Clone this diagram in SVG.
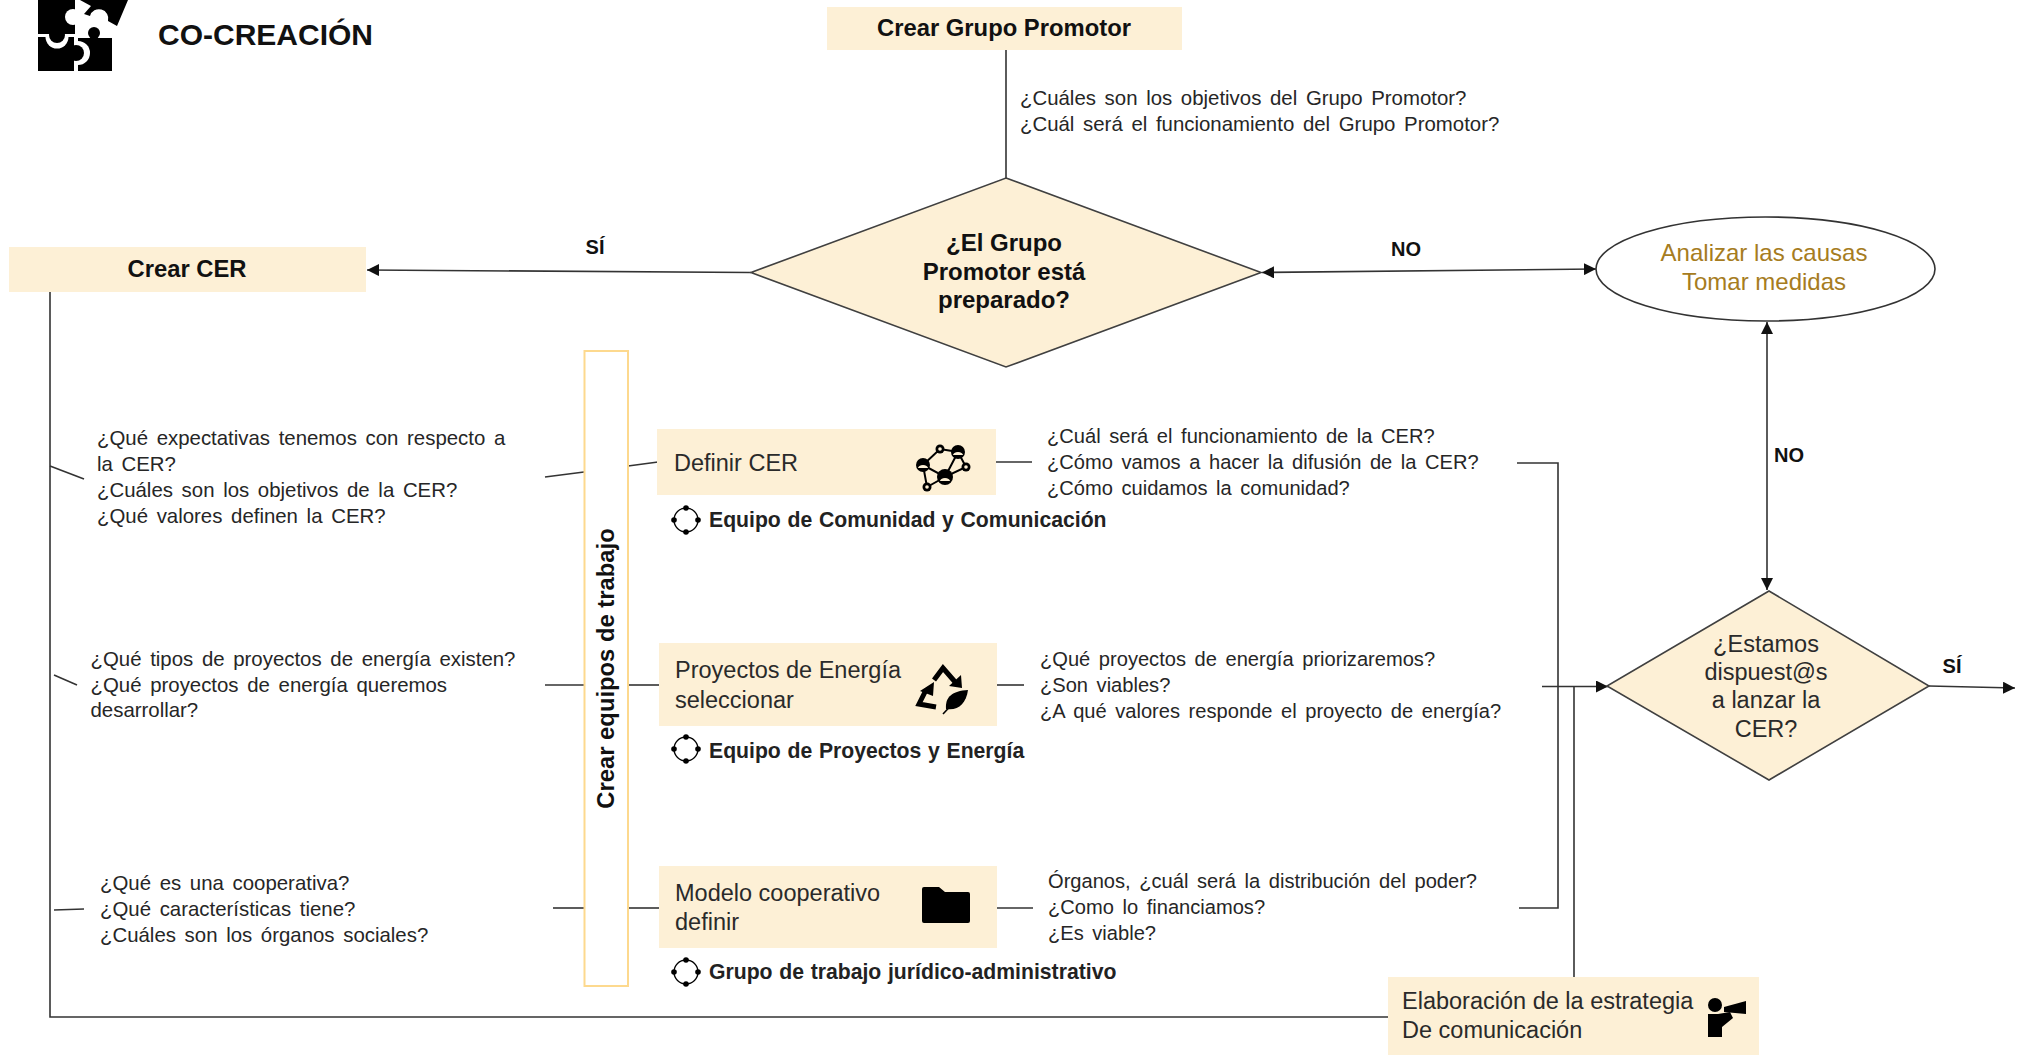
<svg xmlns="http://www.w3.org/2000/svg" width="2022" height="1055" viewBox="0 0 2022 1055">
<style>
text{font-family:"Liberation Sans",Arial,sans-serif;fill:#1c1c1c}
.q{font-size:20.4px;word-spacing:3px;fill:#262626}
.r{font-size:20.100px;word-spacing:3px;fill:#262626}
.b{font-weight:bold;fill:#111}
.h{font-size:23.800px;font-weight:bold;fill:#111}
.n{font-size:23.500px;fill:#2a2a2a}
.t{font-size:21.200px;font-weight:bold;word-spacing:.8px;fill:#222}
.l{font-size:20px;font-weight:bold;fill:#111}
.m{text-anchor:middle}
.box{fill:#fdf0d6}
.dia{fill:#fdf0d6;stroke:#404040;stroke-width:1.6}
.c{fill:none;stroke:#333;stroke-width:1.6}
.ic{fill:#000}
.w{fill:#fff}
.ring{fill:none;stroke:#000;stroke-width:1.300}
</style>
<defs>
<marker id="a" viewBox="0 0 12 12" refX="12" refY="6" markerWidth="12" markerHeight="12" markerUnits="userSpaceOnUse" orient="auto-start-reverse"><path d="M0 0L12 6L0 12Z" fill="#111"/></marker>
<g id="team"><circle class="ring" r="12"/><circle class="ic" cx="0" cy="-12" r="2.800"/><circle class="ic" cx="0" cy="12" r="2.800"/><circle class="ic" cx="-12" cy="0" r="2.800"/><circle class="ic" cx="12" cy="0" r="2.800"/></g>
</defs>

<g id="connectors">
<path class="c" d="M1006 50V178"/>
<path class="c" d="M751 272.500L367 270" marker-end="url(#a)"/>
<path class="c" d="M1262 272.500L1596 269" marker-start="url(#a)" marker-end="url(#a)"/>
<path class="c" d="M1767 322V590" marker-start="url(#a)" marker-end="url(#a)"/>
<path class="c" d="M50 292V1017H1388"/>
<path class="c" d="M50 466L84 479"/>
<path class="c" d="M54 675L77 685"/>
<path class="c" d="M54 910L84 909"/>
<path class="c" d="M545 477L584 472"/>
<path class="c" d="M545 685H584"/>
<path class="c" d="M553 908H584"/>
<path class="c" d="M628 466L658 462"/>
<path class="c" d="M628 685H660"/>
<path class="c" d="M628 908H660"/>
<path class="c" d="M996 462H1032"/>
<path class="c" d="M997 685H1024"/>
<path class="c" d="M997 908H1033"/>
<path class="c" d="M1517 463H1558V908H1519"/>
<path class="c" d="M1542 686.500H1608" marker-end="url(#a)"/>
<path class="c" d="M1574 686.500V977"/>
<path class="c" d="M1929 686L2015 688" marker-end="url(#a)"/>
</g>

<g id="title">
<rect class="ic" x="78" y="38" width="34" height="33"/>
<circle class="ic" cx="94" cy="33" r="6"/><rect class="ic" x="91" y="34" width="6" height="6"/>
<circle class="w" cx="78" cy="53" r="12"/>
<rect class="ic" x="38" y="37" width="36" height="34"/>
<circle class="ic" cx="76" cy="53" r="8"/>
<circle class="w" cx="57" cy="37" r="11.500"/>
<circle class="ic" cx="57" cy="35" r="8"/>
<path class="ic" d="M38 0H75V34H38Z"/>
<circle class="w" cx="73" cy="17" r="8"/>
<path class="ic" d="M80 0H128L117 26L108 21A9 9 0 0 0 90 16L84 14L91 6Z"/>
<text x="158" y="45" class="b" style="font-size:30px">CO-CREACIÓN</text>
</g>

<g id="crear-grupo-promotor">
<rect class="box" x="827" y="7" width="355" height="43"/>
<text x="1004" y="36" class="h m">Crear Grupo Promotor</text>
</g>
<g id="preguntas-grupo">
<text x="1020" y="105" class="q">¿Cuáles son los objetivos del Grupo Promotor?</text>
<text x="1020" y="131" class="q">¿Cuál será el funcionamiento del Grupo Promotor?</text>
</g>
<g id="decision-grupo">
<path class="dia" d="M1006 178L1261 272.500L1006 367L751 272.500Z"/>
<text x="1004" y="251" class="h m" style="font-size:24px">¿El Grupo</text>
<text x="1004" y="280" class="h m" style="font-size:24px">Promotor está</text>
<text x="1004" y="308" class="h m" style="font-size:24px">preparado?</text>
</g>
<g id="crear-cer">
<rect class="box" x="9" y="247" width="357" height="45"/>
<text x="187" y="277" class="h m">Crear CER</text>
</g>
<g id="analizar">
<ellipse cx="1765.500" cy="269" rx="169.500" ry="52" fill="#fff" stroke="#333" stroke-width="1.6"/>
<text x="1764" y="261" class="n m" style="fill:#a67c21;font-size:24px">Analizar las causas</text>
<text x="1764" y="290" class="n m" style="fill:#a67c21;font-size:24px">Tomar medidas</text>
</g>
<g id="labels">
<text x="595" y="254" class="l m">SÍ</text>
<text x="1406" y="256" class="l m">NO</text>
<text x="1789" y="462" class="l m">NO</text>
<text x="1952" y="673" class="l m">SÍ</text>
</g>

<g id="crear-equipos">
<rect x="584.500" y="351" width="43.500" height="635" fill="#fff" stroke="#fdd98e" stroke-width="2"/>
<text transform="translate(614 668.500) rotate(-90)" class="h m">Crear equipos de trabajo</text>
</g>

<g id="preguntas-definir-izq">
<text x="97" y="445" class="q">¿Qué expectativas tenemos con respecto a</text>
<text x="97" y="471" class="q">la CER?</text>
<text x="97" y="497" class="q">¿Cuáles son los objetivos de la CER?</text>
<text x="97" y="523" class="q">¿Qué valores definen la CER?</text>
</g>
<g id="preguntas-proyectos-izq">
<text x="90.500" y="666" class="q">¿Qué tipos de proyectos de energía existen?</text>
<text x="90.500" y="692" class="q">¿Qué proyectos de energía queremos</text>
<text x="90.500" y="717" class="q">desarrollar?</text>
</g>
<g id="preguntas-modelo-izq">
<text x="100" y="890" class="q">¿Qué es una cooperativa?</text>
<text x="100" y="916" class="q">¿Qué características tiene?</text>
<text x="100" y="942" class="q">¿Cuáles son los órganos sociales?</text>
</g>

<g id="definir-cer">
<rect class="box" x="657" y="429" width="339" height="66"/>
<text x="674" y="471" class="n">Definir CER</text>
<g fill="none" stroke="#000" stroke-width="2"><path d="M923 465L940 449L958 452L966 467L945 477L923 465M958 452L945 477M923 465L927 487L945 477"/></g>
<circle class="ic" cx="923" cy="465" r="7"/><circle class="ic" cx="958" cy="452" r="7"/><circle class="ic" cx="945" cy="477" r="8"/><circle class="ic" cx="940" cy="449" r="4.500"/><circle class="ic" cx="966" cy="467" r="4.500"/><circle class="ic" cx="927" cy="487" r="4.500"/>
<g fill="#fdf0d6"><path d="M918 468a5 3 0 0 1 10 0z"/><path d="M953 455a5 3 0 0 1 10 0z"/><path d="M940 481a5 3 0 0 1 10 0z"/><circle cx="940" cy="449" r="1.800"/><circle cx="966" cy="467" r="1.800"/><circle cx="927" cy="487" r="1.800"/></g>
</g>
<g id="equipo-comunidad">
<use href="#team" x="686" y="520"/>
<text x="709" y="527" class="t">Equipo de Comunidad y Comunicación</text>
</g>
<g id="preguntas-definir-der">
<text x="1047" y="443" class="r">¿Cuál será el funcionamiento de la CER?</text>
<text x="1047" y="469" class="r">¿Cómo vamos a hacer la difusión de la CER?</text>
<text x="1047" y="495" class="r">¿Cómo cuidamos la comunidad?</text>
</g>

<g id="proyectos-energia">
<rect class="box" x="659" y="643" width="338" height="83"/>
<text x="675" y="678" class="n">Proyectos de Energía</text>
<text x="675" y="708" class="n">seleccionar</text>
<path d="M934 680L943 668L956 683M926 690L919 704L936 707" fill="none" stroke="#000" stroke-width="5"/>
<path class="ic" d="M949 686L962 688L961 675ZM920 691L934 682L933 696Z"/>
<path class="ic" d="M968 690C952 691 945 697 946 709C958 711 966 704 968 690Z"/>
<path d="M943 714L958 698" stroke="#000" stroke-width="1.600" fill="none"/>
</g>
<g id="equipo-proyectos">
<use href="#team" x="686" y="749"/>
<text x="709" y="758" class="t">Equipo de Proyectos y Energía</text>
</g>
<g id="preguntas-proyectos-der">
<text x="1040" y="666" class="r">¿Qué proyectos de energía priorizaremos?</text>
<text x="1040" y="692" class="r">¿Son viables?</text>
<text x="1040" y="718" class="r">¿A qué valores responde el proyecto de energía?</text>
</g>

<g id="modelo-cooperativo">
<rect class="box" x="659" y="866" width="338" height="82"/>
<text x="675" y="901" class="n">Modelo cooperativo</text>
<text x="675" y="930" class="n">definir</text>
<path class="ic" d="M924 887H939L945 892H968Q970 892 970 894V921Q970 923 968 923H924Q922 923 922 921V889Q922 887 924 887Z"/>
</g>
<g id="grupo-juridico">
<use href="#team" x="686" y="972"/>
<text x="709" y="979" class="t">Grupo de trabajo jurídico-administrativo</text>
</g>
<g id="preguntas-modelo-der">
<text x="1048" y="888" class="r">Órganos, ¿cuál será la distribución del poder?</text>
<text x="1048" y="914" class="r">¿Como lo financiamos?</text>
<text x="1048" y="940" class="r">¿Es viable?</text>
</g>

<g id="decision-lanzar">
<path class="dia" d="M1769 591L1929 686L1769 780L1607 686Z"/>
<text x="1766" y="652" class="n m">¿Estamos</text>
<text x="1766" y="680" class="n m">dispuest@s</text>
<text x="1766" y="708" class="n m">a lanzar la</text>
<text x="1766" y="737" class="n m">CER?</text>
</g>

<g id="estrategia">
<rect class="box" x="1388" y="977" width="371" height="78"/>
<text x="1402" y="1009" class="n">Elaboración de la estrategia</text>
<text x="1402" y="1038" class="n">De comunicación</text>
<circle class="ic" cx="1715" cy="1005" r="7"/>
<path class="ic" d="M1708 1014H1718L1730 1012L1733 1018L1722 1027V1037H1708Z"/>
<path class="ic" d="M1724 1007L1746 1001V1014L1724 1012Z"/>
</g>
</svg>
